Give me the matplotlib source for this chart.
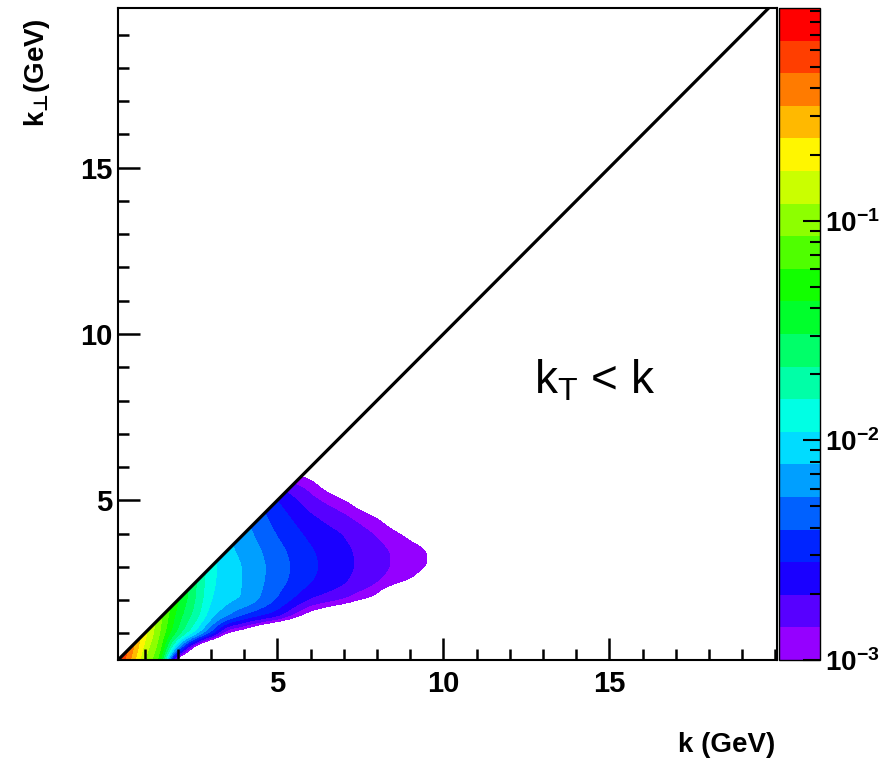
import numpy as np
import matplotlib
matplotlib.use('Agg')
from matplotlib import pyplot as plt
from matplotlib.colors import LogNorm, ListedColormap, hsv_to_rgb
from matplotlib.patches import Polygon
from matplotlib.ticker import LogLocator, MultipleLocator

plt.rcParams['font.family'] = ['Liberation Sans', 'DejaVu Sans']
plt.rcParams['font.weight'] = 'bold'
plt.rcParams['mathtext.fontset'] = 'custom'
plt.rcParams['mathtext.rm'] = 'Liberation Sans:normal'
plt.rcParams['mathtext.bf'] = 'Liberation Sans:bold'
plt.rcParams['mathtext.it'] = 'Liberation Sans:italic'
plt.rcParams['mathtext.sf'] = 'DejaVu Sans:bold'
plt.rcParams['mathtext.fallback'] = 'stixsans'

k_nodes = [0, 0.5, 1, 1.5, 2, 2.5, 3, 3.5, 4, 5, 6, 7, 8, 9, 10, 11]
kt_nodes = [0, 0.5, 1, 1.5, 2, 2.5, 3, 3.5, 4, 4.5, 5, 5.5, 6, 6.5, 7]

# one list per k column, values for each kT node (log10), -4 = empty
col_k0 = [-0.05] * 15
col_k05 = [-0.45, -0.30, -0.25, -0.20] + [-0.20] * 11
col_k1 = [-1.00, -0.85, -0.72, -0.65] + [-0.60] * 11
col_k15 = [-1.30, -1.18, -1.10, -1.05, -1.00] + [-0.95] * 10
col_k2 = [-4, -2.30, -1.55, -1.45, -1.35] + [-1.30] * 10
col_k25 = [-4, -3.30, -1.95, -1.72, -1.65, -1.63] + [-1.60] * 9
col_k3 = [-4, -4, -2.40, -2.06, -1.97, -1.93] + [-1.92] * 9
col_k35 = [-4, -4, -3.05, -2.25, -2.07, -2.05, -2.04, -2.08] + [-2.10] * 7
col_k4 = [-4, -4, -3.20, -2.45, -2.12, -2.12, -2.12, -2.15, -2.20, -2.25] + [-2.30] * 5
col_k5 = [-4, -4, -3.80, -2.65, -2.42, -2.35, -2.33, -2.36, -2.42, -2.48, -2.55, -2.75, -3.10, -3.50, -4]
col_k6 = [-4, -4, -4, -3.15, -2.72, -2.55, -2.52, -2.54, -2.60, -2.68, -2.80, -2.93, -3.20, -3.60, -4]
col_k7 = [-4, -4, -4, -3.50, -2.85, -2.69, -2.66, -2.67, -2.71, -2.82, -2.98, -3.30, -3.70, -4, -4]
col_k8 = [-4, -4, -4, -4, -3.08, -2.85, -2.79, -2.80, -2.87, -3.00, -3.30, -3.70, -4, -4, -4]
col_k9 = [-4, -4, -4, -4, -4, -3.02, -2.94, -2.94, -3.05, -3.30, -3.60, -4, -4, -4, -4]
col_k10 = [-4, -4, -4, -4, -4, -3.20, -3.06, -3.06, -3.15, -3.50, -4, -4, -4, -4, -4]
col_k11 = [-4] * 15

log_table = np.array([col_k0, col_k05, col_k1, col_k15, col_k2, col_k25, col_k3, col_k35,
                      col_k4, col_k5, col_k6, col_k7, col_k8, col_k9, col_k10, col_k11]).T

z_min, z_max = 1e-3, 0.93
n_levels = 20
cbar_ticks = [1e-3, 1e-2, 1e-1]
cbar_labels = [r'$\mathbf{10^{-3}}$', r'$\mathbf{10^{-2}}$', r'$\mathbf{10^{-1}}$']


def smooth(a, sigma):
    r = int(3 * sigma) + 1
    x = np.arange(-r, r + 1)
    g = np.exp(-0.5 * (x / sigma) ** 2)
    g /= g.sum()
    a = np.pad(a, r, mode='edge')
    a = np.apply_along_axis(lambda v: np.convolve(v, g, mode='valid'), 0, a)
    a = np.apply_along_axis(lambda v: np.convolve(v, g, mode='valid'), 1, a)
    return a


# bilinear fill of the read table on a fine grid
step = 0.05
kk = np.arange(0, 20.0 + step / 2, step)
tt = np.arange(0, 20.0 + step / 2, step)
tmp = np.array([np.interp(tt, kt_nodes, log_table[:, j]) for j in range(len(k_nodes))]).T
field = np.array([np.interp(kk, k_nodes, tmp[i, :]) for i in range(len(tt))])
field = smooth(field, 0.12 / step)
z = 10 ** field

hues = [(275 * (1 - b / (n_levels - 1))) / 360 for b in range(n_levels)]
cmap = ListedColormap([hsv_to_rgb((h, 1, 1)) for h in hues])
levels = np.logspace(np.log10(z_min), np.log10(z_max), n_levels + 1)

fig = plt.figure(figsize=(8.9, 7.61), dpi=100)
ax = fig.add_axes([118 / 890, 101 / 761, 659 / 890, 652 / 761])

cs = ax.contourf(kk, tt, z, levels=levels, cmap=cmap, norm=LogNorm(vmin=z_min, vmax=z_max))
clip = Polygon([[0, 0], [30, 30], [30, 0]], closed=True, transform=ax.transData)
cs.set_clip_path(clip)

ax.plot([0, 22], [0, 22], color='k', lw=2.3)

ax.set_xlim(0.2, 20.05)
ax.set_ylim(0.2, 19.8)
ax.set_xticks([5, 10, 15])
ax.set_yticks([5, 10, 15])
ax.xaxis.set_minor_locator(MultipleLocator(1))
ax.yaxis.set_minor_locator(MultipleLocator(1))
ax.tick_params(which='both', direction='in', top=False, right=False, width=1.8, labelsize=21)
ax.tick_params(which='major', length=16)
ax.tick_params(which='minor', length=8)
ax.tick_params(axis='x', pad=7)
ax.tick_params(axis='y', pad=4)
for s in ax.spines.values():
    s.set_linewidth(1.5)

ax.set_xlabel('k (GeV)', fontsize=20, fontweight='bold', loc='right')
ax.xaxis.set_label_coords(0.997, -0.11)
ax.set_ylabel(r'$\mathbf{k}_{\mathsf{⊥}}$(GeV)', fontsize=20, fontweight='bold', loc='top')
ax.yaxis.set_label_coords(-0.1, 0.985)

ax.text(14.55, 8.6, r'$\mathrm{k_T}$ < k', fontsize=33, fontweight='normal', ha='center', va='center')

cax = fig.add_axes([779 / 890, 101 / 761, 41 / 890, 652 / 761])
cb = fig.colorbar(cs, cax=cax)
cb.set_ticks(cbar_ticks, labels=cbar_labels)
cb.ax.yaxis.set_minor_locator(LogLocator(base=10, subs=np.arange(2, 10)))
cb.ax.tick_params(which='both', direction='in', labelsize=20, width=1.5)
cb.ax.tick_params(which='major', length=12)
cb.ax.tick_params(which='minor', length=7)
cb.outline.set_linewidth(1.0)

fig.savefig('out.png', dpi=100)
